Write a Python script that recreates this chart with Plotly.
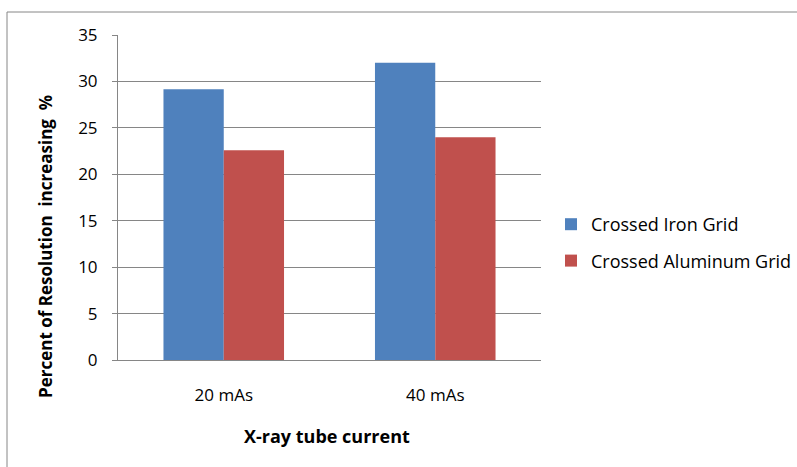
import plotly.graph_objects as go

categories = ["20 mAs", "40 mAs"]
iron_grid = [29.15, 32.0]
aluminum_grid = [22.6, 24.0]
series_names = ["Crossed Iron Grid", "Crossed Aluminum Grid"]
y_ticks = [0, 5, 10, 15, 20, 25, 30, 35]

W, H = 797, 467
L, R, T, B = 118, 541, 35, 360

fig = go.Figure()
fig.add_trace(go.Bar(x=categories, y=iron_grid, name=series_names[0],
                     marker=dict(color="#4F81BD", line=dict(width=0)), legendgroup="a"))
fig.add_trace(go.Bar(x=categories, y=aluminum_grid, name=series_names[1],
                     marker=dict(color="#C0504D", line=dict(width=0)), legendgroup="b"))

font_family = "'Open Sans', Lato, sans-serif"

fig.update_layout(
    width=W, height=H,
    margin=dict(l=L, r=W - R, t=T, b=H - B, autoexpand=False),
    paper_bgcolor="white", plot_bgcolor="white",
    barmode="group", bargap=0.43, bargroupgap=0,
    font=dict(family=font_family, size=17, color="#000000"),
    showlegend=True,
    legend=dict(x=(551 - L) / (R - L), y=(B - 242.5) / (B - T), xanchor="left", yanchor="middle",
                font=dict(size=18, color="#000000"), tracegroupgap=10,
                traceorder="grouped", itemwidth=30, bgcolor="rgba(0,0,0,0)"),
    xaxis=dict(showline=True, linecolor="#868686", linewidth=1, ticks="",
               tickfont=dict(size=17), showgrid=False, ticklabelstandoff=20),
    yaxis=dict(range=[0, 35], tickvals=y_ticks, showline=True, linecolor="#868686",
               linewidth=1, ticks="outside", ticklen=5, tickcolor="#868686",
               gridcolor="#868686", gridwidth=1, tickfont=dict(size=17),
               zeroline=False, ticklabelstandoff=11),
)

nb = "\u00a0"
fig.add_annotation(text="<b>X-ray tube current</b>", xref="paper", yref="paper",
                   x=(327 - L) / (R - L), y=(B - 436) / (B - T), showarrow=False,
                   font=dict(size=18, family=font_family, color="#000000"),
                   xanchor="center", yanchor="middle")
fig.add_annotation(text=f"<b>Percent of Resolution {nb}increasing {nb}%</b>", xref="paper", yref="paper",
                   x=(46 - L) / (R - L), y=(B - 247) / (B - T), showarrow=False, textangle=-90,
                   font=dict(size=17, family=font_family, color="#000000"),
                   xanchor="center", yanchor="middle")

# outer chart border
fig.add_shape(type="rect", xref="paper", yref="paper",
              x0=(7 - L) / (R - L), y0=(B - 520) / (B - T),
              x1=(900 - L) / (R - L), y1=(B - 12) / (B - T),
              line=dict(color="#868686", width=1), fillcolor="rgba(0,0,0,0)", layer="below")

fig.write_html("out.html", config={"displayModeBar": False},
               post_script="document.body.style.margin='0';")
